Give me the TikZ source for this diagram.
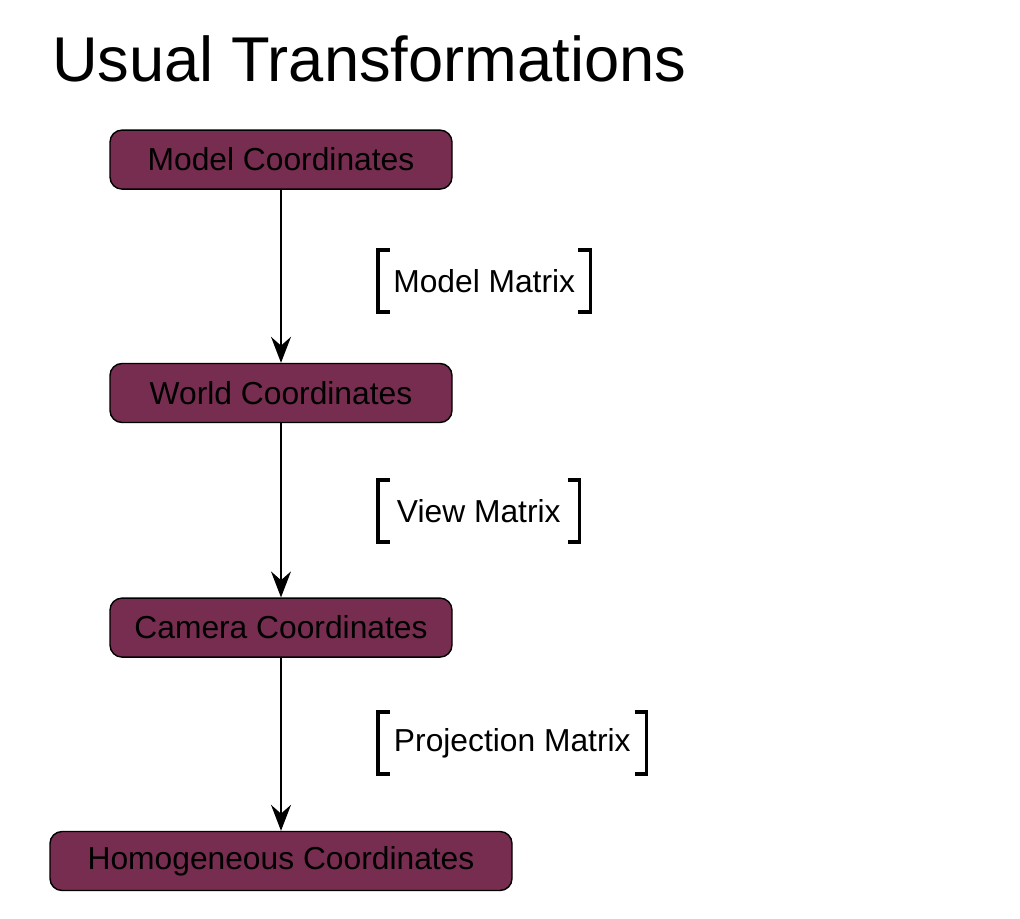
\documentclass[tikz,border=0pt]{standalone}
\usepackage{fontspec}
\setmainfont{Liberation Sans}
\usepackage{xcolor}
\usepackage{tikz}
\usetikzlibrary{positioning,arrows.meta,calc}

\definecolor{coordfill}{RGB}{118,45,80}

\tikzset{
    coordbox/.style={draw=black, line width=1pt, fill=coordfill, rounded corners=0.3cm,
        minimum height=1.475cm, minimum width=8.55cm, inner sep=0pt,
        font=\fontsize{22.6}{27}\selectfont},
    matlabel/.style={anchor=west, minimum height=1.55cm, inner xsep=0.375cm, inner ysep=0pt,
        font=\fontsize{22.6}{27}\selectfont},
    bracket/.style={line width=2.7pt},
    transform/.style={line width=1pt, -{Stealth[length=0.65cm, width=0.5cm, inset=0.22cm]}}
}

\begin{document}
\begin{tikzpicture}
    \useasboundingbox (0,0) rectangle (25.5,-22.95);

    % Titel
    \node[anchor=base west, inner sep=0pt, font=\fontsize{45}{54}\selectfont] (title) at (1.3,-2.03) {Usual Transformations};

    % Coordinatenstelsels
    \node[coordbox] (model) at (7.025,-3.99) {Model Coordinates};
    \node[coordbox] (world) at (7.025,-9.825) {World Coordinates};
    \node[coordbox] (camera) at (7.025,-15.69) {Camera Coordinates};
    \node[coordbox, minimum width=11.55cm] (homog) at (7.025,-21.525) {Homogeneous Coordinates};

    % Overgangen
    \draw[transform] (model) -- (world);
    \draw[transform] (world) -- (camera);
    \draw[transform] (camera) -- (homog);

    % Matrices
    \node[matlabel, minimum width=5.225cm] (modelmat) at (9.45,-7.025) {Model Matrix};
    \node[matlabel, minimum width=5.025cm] (viewmat) at (9.45,-12.775) {View Matrix};
    \node[matlabel, minimum width=6.7cm] (projmat) at (9.45,-18.575) {Projection Matrix};

    % Haken
    \foreach \m in {modelmat,viewmat,projmat} {
        \draw[bracket] ($(\m.north west)+(0.3,0)$) -- (\m.north west) -- (\m.south west) -- ++(0.3,0);
        \draw[bracket] ($(\m.north east)+(-0.3,0)$) -- (\m.north east) -- (\m.south east) -- ++(-0.3,0);
    }
\end{tikzpicture}
\end{document}
